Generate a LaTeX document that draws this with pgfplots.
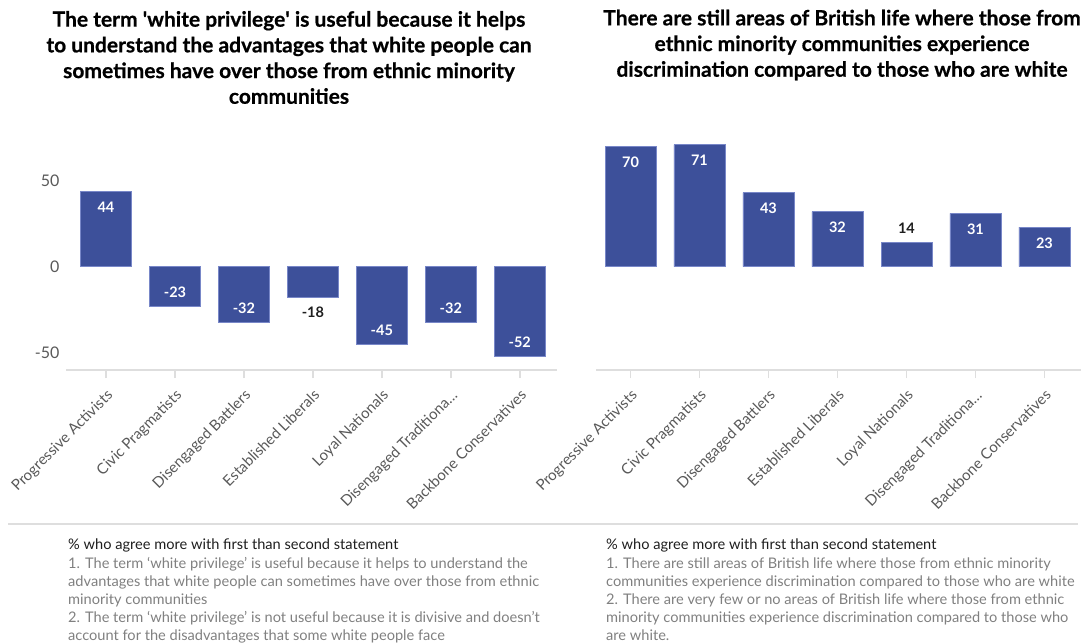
\documentclass[border=0pt]{standalone}
\usepackage{fontspec}
\setmainfont{Lato}
\newfontfamily\titlefont[FakeBold=0.6]{Lato Bold}
\usepackage{pgfplots}
\pgfplotsset{compat=1.18}
\definecolor{barblue}{RGB}{61,80,154}
\definecolor{baredge}{RGB}{120,135,200}
\definecolor{axgray}{RGB}{222,222,222}
\definecolor{lblgray}{RGB}{89,89,89}
\definecolor{notegray}{RGB}{128,128,128}
\definecolor{notedark}{RGB}{30,30,30}
\pgfplotsset{
  segstyle/.style={
    scale only axis,
    ymin=-60, ymax=80,
    ybar, bar width=51pt, bar shift=0pt,
    axis x line*=bottom, axis y line*=left,
    x axis line style={draw=axgray, line width=1.5pt},
    y axis line style={draw=none},
    xtick={0,...,6},
    xticklabels={Progressive Activists, Civic Pragmatists, Disengaged Battlers, Established Liberals, Loyal Nationals, Disengaged Traditiona…, Backbone Conservatives},
    xtick align=outside, major tick length=8pt,
    xtick style={draw=axgray, line width=1.5pt},
    ytick style={draw=none},
    xticklabel style={rotate=45, anchor=north east, font=\fontsize{15}{17}\selectfont, text=lblgray, inner sep=1pt, yshift=-6pt, xshift=-6.5pt},
    /pgf/number format/assume math mode=true,
    clip=false,
  },
  inlab/.style={fill=barblue, draw=baredge, line width=0.6pt, nodes near coords,
    every node near coord/.append style={anchor=center, yshift=#1, text=white, font=\bfseries\fontsize{14.5}{16}\selectfont}},
  outlab/.style={fill=barblue, draw=baredge, line width=0.6pt, nodes near coords,
    every node near coord/.append style={anchor=center, yshift=#1, text=notedark, font=\bfseries\fontsize{14.5}{16}\selectfont}},
}
\begin{document}
\begin{tikzpicture}
\path (0pt,0pt) rectangle (1084pt,-641pt);
% Left chart
\begin{axis}[segstyle, at={(66pt,-370pt)}, anchor=south west, width=491pt, height=241pt,
  xmin=-0.58, xmax=6.54,
  ytick={-50,0,50}, yticklabels={-50,0,50},
  yticklabel style={font=\fontsize{16}{18}\selectfont, text=lblgray, xshift=-3pt}]
\addplot[inlab=-16pt] coordinates {(0,44)};
\addplot[inlab=14pt] coordinates {(1,-23) (2,-32) (4,-45) (5,-32) (6,-52)};
\addplot[outlab=-15pt] coordinates {(3,-18)};
\end{axis}
% Right chart
\begin{axis}[segstyle, at={(596pt,-370pt)}, anchor=south west, width=485pt, height=241pt,
  xmin=-0.5, xmax=6.53, ytick=\empty]
\addplot[inlab=-16pt] coordinates {(0,70) (1,71) (2,43) (3,32) (5,31) (6,23)};
\addplot[outlab=14pt] coordinates {(4,14)};
\end{axis}
% Titles
\node[align=center, inner sep=0pt, font=\titlefont\fontsize{21}{25.7}\selectfont] at (289pt,-57.5pt)
  {The term \textquotesingle white privilege\textquotesingle{} is useful because it helps\\
   to understand the advantages that white people can\\
   sometimes have over those from ethnic minority\\
   communities};
\node[align=center, inner sep=0pt, font=\titlefont\fontsize{21}{25.7}\selectfont] at (842pt,-45pt)
  {There are still areas of British life where those from\\
   ethnic minority communities experience\\
   discrimination compared to those who are white};
% separator
\draw[axgray, line width=1.5pt] (8pt,-524pt) -- (1078pt,-524pt);
% Notes
\node[anchor=north west, align=left, inner sep=0pt, text=notegray, font=\fontsize{14.6}{18.1}\selectfont] at (68pt,-539pt)
  {{\color{notedark}\% who agree more with first than second statement}\\
   1. The term ‘white privilege’ is useful because it helps to understand the\\
   advantages that white people can sometimes have over those from ethnic\\
   minority communities\\
   2. The term ‘white privilege’ is not useful because it is divisive and doesn’t\\
   account for the disadvantages that some white people face};
\node[anchor=north west, align=left, inner sep=0pt, text=notegray, font=\fontsize{14.6}{18.1}\selectfont] at (606pt,-539pt)
  {{\color{notedark}\% who agree more with first than second statement}\\
   1. There are still areas of British life where those from ethnic minority\\
   communities experience discrimination compared to those who are white\\
   2. There are very few or no areas of British life where those from ethnic\\
   minority communities experience discrimination compared to those who\\
   are white.};
\end{tikzpicture}
\end{document}
